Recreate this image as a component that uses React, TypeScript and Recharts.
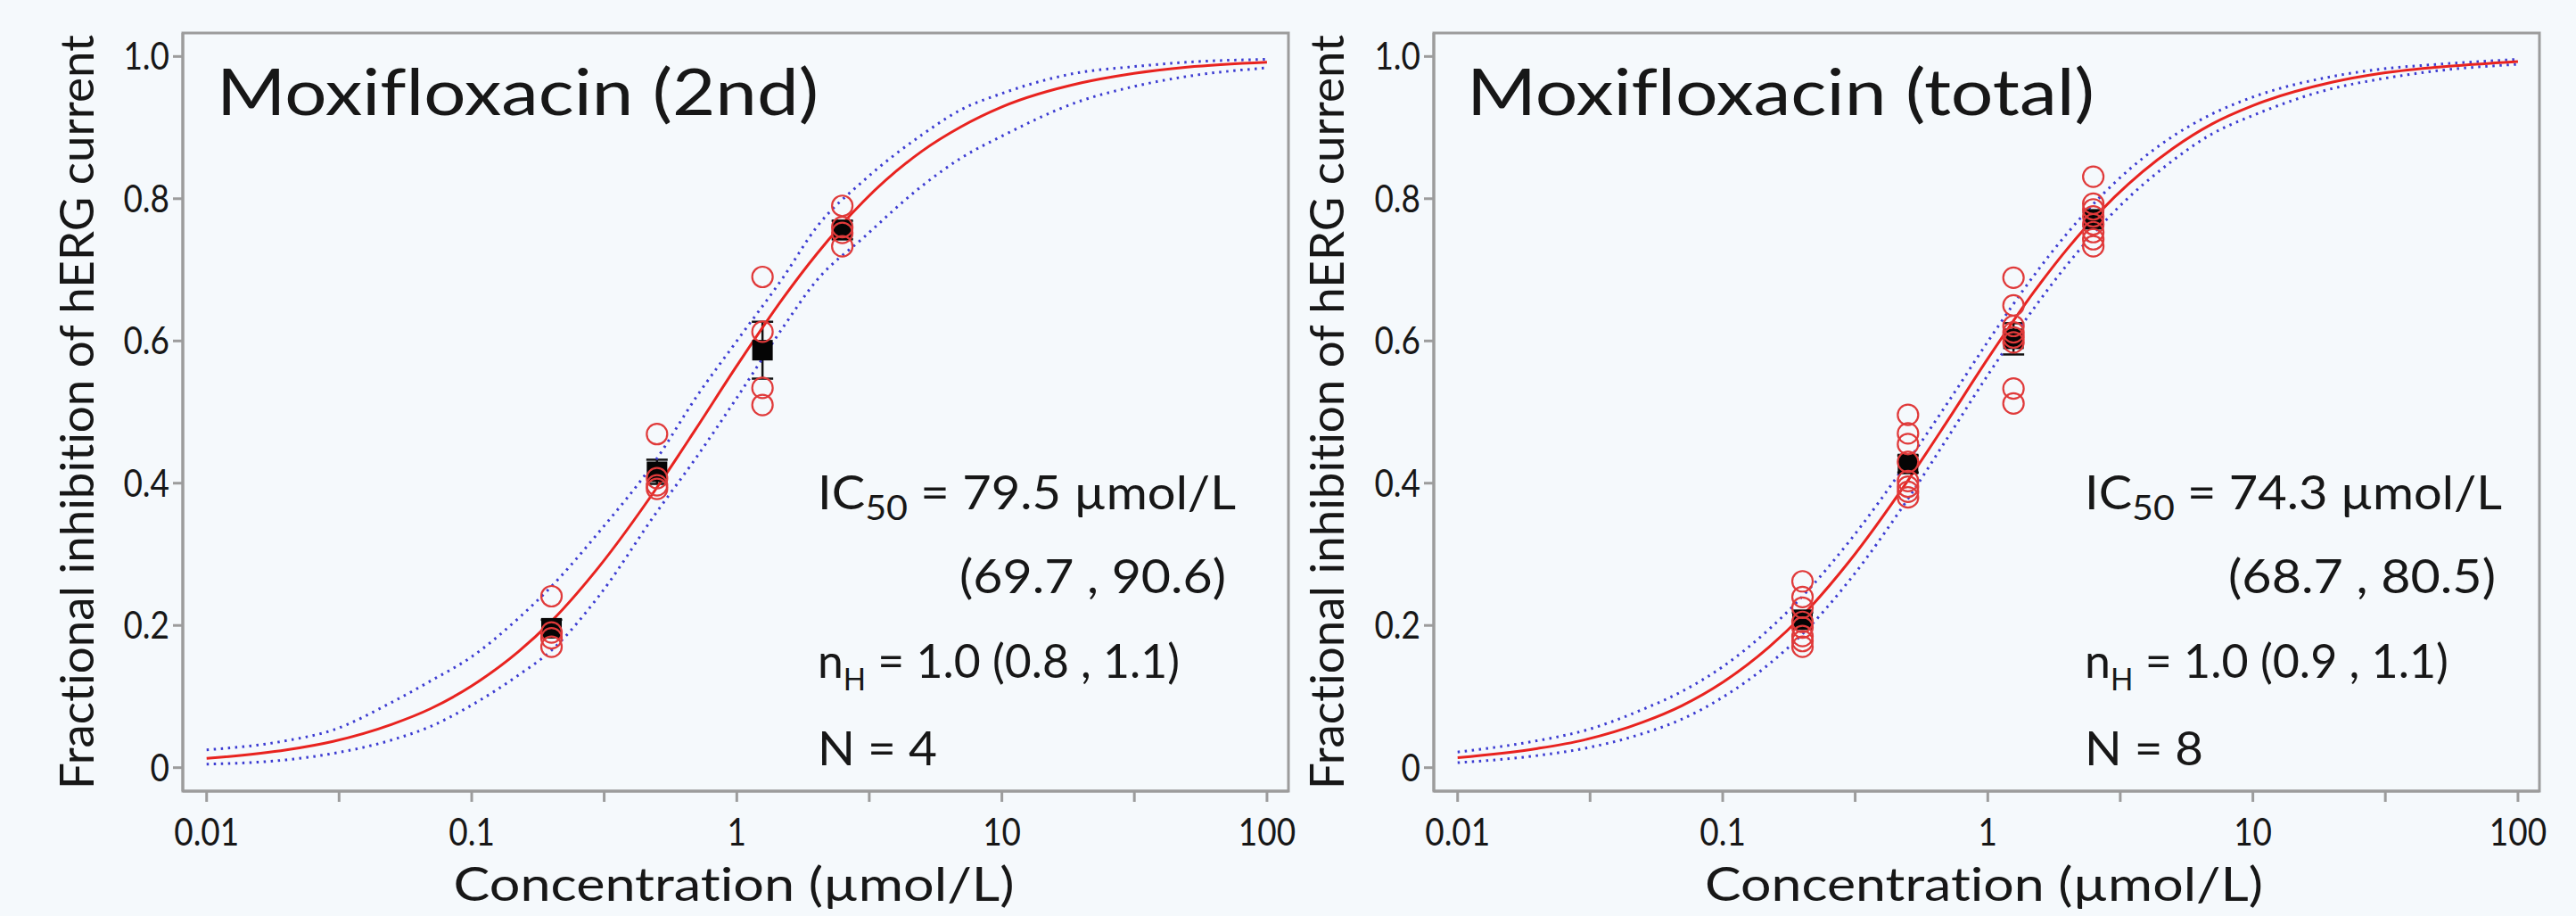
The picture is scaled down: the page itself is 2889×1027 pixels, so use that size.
import React from 'react';
import { ComposedChart, Line, Scatter, XAxis, YAxis, ErrorBar, ReferenceArea } from 'recharts';

const FONT = 'Lato, "Open Sans", sans-serif';
const INK = '#171717';
const FRAME = '#9c9c9c';
const BG = '#f5f9fc';
const RED = '#e8231f';
const RING = '#e03a3a';
const BLUE = '#3c3cd2';

// axis settings
const xMin = 0.00813;
const xMax = 120.5;
const yMin = -0.033;
const yMax = 1.033;
const xMajor = [0.01, 0.1, 1, 10, 100];
const xMajorLabels = ['0.01', '0.1', '1', '10', '100'];
const xMinor = [0.0316, 0.316, 3.16, 31.6];
const yTicks = [0, 0.2, 0.4, 0.6, 0.8, 1.0];
const yTickLabels = ['0', '0.2', '0.4', '0.6', '0.8', '1.0'];

// fitted curves (concentration in µmol/L)
const conc = [0.01, 0.02, 0.03, 0.05, 0.07, 0.1, 0.15, 0.2, 0.3, 0.5, 0.7, 1, 1.5, 2, 3, 5, 7, 10, 20, 30, 50, 100];

const fit2nd = [0.013, 0.025, 0.037, 0.061, 0.083, 0.115, 0.163, 0.206, 0.281, 0.394, 0.476, 0.565, 0.661, 0.722, 0.796, 0.867, 0.901, 0.929, 0.963, 0.975, 0.985, 0.992];
const upper2nd = [0.025, 0.038, 0.053, 0.092, 0.122, 0.156, 0.21, 0.255, 0.33, 0.435, 0.52, 0.6, 0.69, 0.76, 0.825, 0.89, 0.925, 0.948, 0.978, 0.985, 0.992, 0.996];
const lower2nd = [0.005, 0.011, 0.02, 0.039, 0.058, 0.088, 0.13, 0.165, 0.24, 0.36, 0.435, 0.52, 0.62, 0.685, 0.745, 0.818, 0.857, 0.888, 0.938, 0.956, 0.972, 0.984];

const fitTotal = [0.014, 0.027, 0.039, 0.064, 0.087, 0.12, 0.17, 0.214, 0.29, 0.404, 0.486, 0.575, 0.67, 0.73, 0.802, 0.871, 0.905, 0.931, 0.964, 0.976, 0.985, 0.993];
const upperTotal = [0.022, 0.038, 0.052, 0.082, 0.107, 0.142, 0.195, 0.241, 0.318, 0.431, 0.511, 0.599, 0.693, 0.752, 0.822, 0.888, 0.919, 0.943, 0.972, 0.982, 0.989, 0.996];
const lowerTotal = [0.007, 0.017, 0.027, 0.048, 0.068, 0.099, 0.146, 0.188, 0.263, 0.378, 0.462, 0.552, 0.647, 0.708, 0.782, 0.854, 0.891, 0.917, 0.955, 0.968, 0.98, 0.989];

// measured replicates
const doses = [0.2, 0.5, 1.25, 2.5];

const reps2nd = [
  [0.241, 0.19, 0.182, 0.17],
  [0.469, 0.407, 0.397, 0.392],
  [0.69, 0.613, 0.534, 0.51],
  [0.79, 0.76, 0.752, 0.733],
];
const mean2nd = [0.196, 0.416, 0.587, 0.756];
const sem2nd = [0.012, 0.017, 0.04, 0.013];

const repsTotal = [
  [0.262, 0.24, 0.225, 0.205, 0.197, 0.185, 0.178, 0.17],
  [0.496, 0.47, 0.455, 0.43, 0.403, 0.395, 0.388, 0.38],
  [0.689, 0.65, 0.621, 0.612, 0.605, 0.598, 0.533, 0.512],
  [0.831, 0.793, 0.785, 0.775, 0.764, 0.753, 0.743, 0.733],
];
const meanTotal = [0.208, 0.427, 0.603, 0.771];
const semTotal = [0.01, 0.012, 0.022, 0.01];

const XTick = (props: any) => {
  const { x, y, payload } = props;
  const idx = xMajor.indexOf(payload.value);
  if (idx < 0) return null;
  return (
    <g transform={`translate(${x},${y})`}>
      <text transform="scale(0.88,1)" textAnchor="middle" dy="0.71em" fontSize={42} fontFamily={FONT} fill={INK}>
        {xMajorLabels[idx]}
      </text>
    </g>
  );
};

const YTick = (props: any) => {
  const { x, y, payload } = props;
  const idx = yTicks.indexOf(payload.value);
  return (
    <g transform={`translate(${x},${y})`}>
      <text transform="scale(0.88,1)" textAnchor="end" dy="0.36em" fontSize={42} fontFamily={FONT} fill={INK}>
        {yTickLabels[idx]}
      </text>
    </g>
  );
};

const Ring = (p: any) => <circle cx={p.cx} cy={p.cy} r={11.5} fill="none" stroke={RING} strokeWidth={2.2} />;
const Square = (p: any) => <rect x={p.cx - 11.5} y={p.cy - 11.5} width={23} height={23} fill="#050505" />;

const Panel = ({ fit, upper, lower, reps, means, sems, left }: any) => {
  const curve = conc.map((x, i) => ({ x, fit: fit[i], hi: upper[i], lo: lower[i] }));
  const rings = doses.flatMap((d, i) => reps[i].map((v: number) => ({ x: d, y: v })));
  const squares = doses.map((d, i) => ({ x: d, y: means[i], e: sems[i] }));
  return (
    <div style={{ position: 'absolute', left, top: 0 }}>
      <ComposedChart width={1460} height={1027} data={curve} margin={{ top: 37, right: 15, bottom: 40, left: 145 }}>
        <XAxis
          dataKey="x"
          type="number"
          scale="log"
          domain={[xMin, xMax]}
          allowDataOverflow
          ticks={[...xMajor, ...xMinor].sort((a, b) => a - b)}
          interval={0}
          height={100}
          tickSize={12}
          tickMargin={19}
          tickLine={{ stroke: FRAME, strokeWidth: 3 }}
          axisLine={{ stroke: FRAME, strokeWidth: 3 }}
          tick={<XTick />}
        />
        <YAxis
          type="number"
          domain={[yMin, yMax]}
          allowDataOverflow
          ticks={yTicks}
          interval={0}
          width={60}
          tickSize={11}
          tickMargin={4}
          tickLine={{ stroke: FRAME, strokeWidth: 3 }}
          axisLine={{ stroke: FRAME, strokeWidth: 3 }}
          tick={<YTick />}
        />
        <ReferenceArea x1={xMin} x2={xMax} y1={yMin} y2={yMax} fill="none" stroke={FRAME} strokeWidth={3} ifOverflow="visible" />
        <Scatter data={squares} dataKey="y" shape={<Square />} isAnimationActive={false}>
          <ErrorBar dataKey="e" direction="y" width={12} stroke="#111" strokeWidth={2.5} isAnimationActive={false} />
        </Scatter>
        <Scatter data={rings} dataKey="y" shape={<Ring />} isAnimationActive={false} />
        <Line dataKey="hi" type="monotone" stroke={BLUE} strokeWidth={3} strokeDasharray="2.5 5.5" dot={false} isAnimationActive={false} />
        <Line dataKey="lo" type="monotone" stroke={BLUE} strokeWidth={3} strokeDasharray="2.5 5.5" dot={false} isAnimationActive={false} />
        <Line dataKey="fit" type="monotone" stroke={RED} strokeWidth={3} dot={false} isAnimationActive={false} />
      </ComposedChart>
    </div>
  );
};

const Notes = ({ ox, title, titleLen, ic, ci, nh, n, lens }: any) => (
  <g fontFamily={FONT} fill={INK} style={{ fontVariantLigatures: 'none' }}>
    <text x={ox.title} y={128.5} fontSize={72} textLength={titleLen} lengthAdjust="spacingAndGlyphs">{title}</text>
    <text x={ox.ic} y={571} fontSize={53} textLength={lens[0]} lengthAdjust="spacingAndGlyphs">
      IC<tspan fontSize={39} dy={12}>50</tspan><tspan dy={-12}>{` = ${ic} µmol/L`}</tspan>
    </text>
    <text x={ox.ci} y={665} fontSize={53} textLength={lens[1]} lengthAdjust="spacingAndGlyphs">{ci}</text>
    <text x={ox.ic} y={760} fontSize={53} textLength={lens[2]} lengthAdjust="spacingAndGlyphs">
      n<tspan fontSize={34} dy={14}>H</tspan><tspan dy={-14}>{` = ${nh}`}</tspan>
    </text>
    <text x={ox.ic} y={858} fontSize={53} textLength={lens[3]} lengthAdjust="spacingAndGlyphs">{`N = ${n}`}</text>
    <text x={ox.mid} y={1010} fontSize={52} textAnchor="middle" textLength={ox.xLen} lengthAdjust="spacingAndGlyphs">
      Concentration (µmol/L)
    </text>
    <text transform={`translate(${ox.yTitle},462) rotate(-90)`} fontSize={52} textAnchor="middle" textLength={846} lengthAdjust="spacingAndGlyphs">
      Fractional inhibition of hERG current
    </text>
  </g>
);

export default function App() {
  return (
    <div style={{ position: 'absolute', left: 0, top: 0, width: 2889, height: 1027, background: BG, overflow: 'hidden' }}>
      <Panel fit={fit2nd} upper={upper2nd} lower={lower2nd} reps={reps2nd} means={mean2nd} sems={sem2nd} left={0} />
      <Panel fit={fitTotal} upper={upperTotal} lower={lowerTotal} reps={repsTotal} means={meanTotal} sems={semTotal} left={1403} />
      <svg width={2889} height={1027} style={{ position: 'absolute', left: 0, top: 0, pointerEvents: 'none' }}>
        <Notes
          ox={{ title: 243, ic: 917, ci: 1076, mid: 823, xLen: 629, yTitle: 105 }}
          title="Moxifloxacin (2nd)"
          titleLen={675}
          ic="79.5"
          ci="(69.7 , 90.6)"
          nh="1.0 (0.8 , 1.1)"
          n={4}
          lens={[469, 299, 406, 134]}
        />
        <Notes
          ox={{ title: 1645, ic: 2338, ci: 2499, mid: 2225, xLen: 626, yTitle: 1507 }}
          title="Moxifloxacin (total)"
          titleLen={704}
          ic="74.3"
          ci="(68.7 , 80.5)"
          nh="1.0 (0.9 , 1.1)"
          n={8}
          lens={[468, 300, 408, 133]}
        />
      </svg>
    </div>
  );
}
